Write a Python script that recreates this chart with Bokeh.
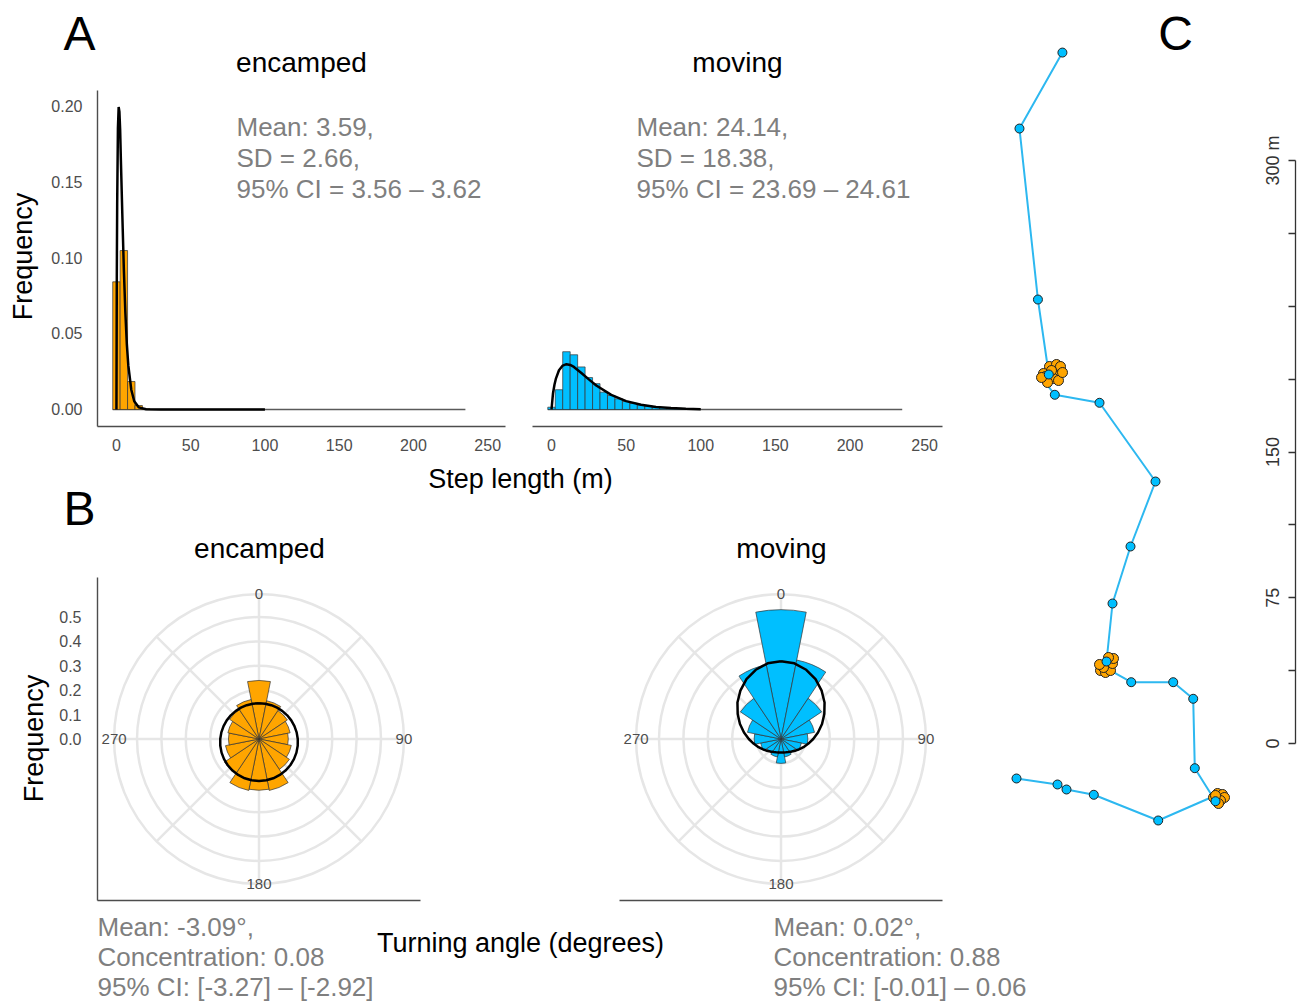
import math
from bokeh.plotting import figure
from bokeh.models import Range1d, FixedTicker, NumeralTickFormatter, Label
from bokeh.layouts import row, column
from bokeh.embed import file_html
from bokeh.resources import INLINE
from bokeh.core.properties import value

FONT = "Liberation Sans"
ORANGE = "#FFA500"
BLUE = "#00BFFF"
TRACK_BLUE = "#2DB8F0"
GRID = "#E6E6E6"
AXIS = "#4D4D4D"
STAT = "#7F7F7F"

# ---------------- Panel A: step length ----------------
bin_width = 5
step_max = 235
enc_bins = [0, 5, 10, 15, 20]
enc_freq = [0.084, 0.1046, 0.0184, 0.0026, 0.0005]
mov_bins = [0, 5, 10, 15, 20, 25, 30, 35, 40, 45, 50, 55, 60, 65, 70, 75, 80, 85, 90, 95]
mov_freq = [0.0015, 0.013, 0.038, 0.036, 0.028, 0.021, 0.017, 0.0114, 0.0092, 0.007,
            0.0053, 0.004, 0.003, 0.0024, 0.0018, 0.0013, 0.0009, 0.0007, 0.0004, 0.0002]
enc_curve_x = [0, 0.25, 0.5, 1, 1.5, 2, 2.5, 3, 4, 5, 6, 7, 8, 10, 12, 15, 20, 30, 50, 100]
enc_curve_y = [0, 0.088, 0.135, 0.185, 0.199, 0.196, 0.184, 0.164, 0.127, 0.092, 0.064,
               0.043, 0.029, 0.013, 0.0054, 0.0014, 0.0002, 0, 0, 0]
mov_curve_x = [0, 1, 2, 3, 5, 7.5, 10, 12.5, 15, 20, 25, 30, 40, 50, 60, 70, 80, 90, 100]
mov_curve_y = [0, 0.0107, 0.0164, 0.0205, 0.0258, 0.0289, 0.0298, 0.0293, 0.0280, 0.0240,
               0.0198, 0.0158, 0.0096, 0.0055, 0.0031, 0.0017, 0.0009, 0.0005, 0.0002]
step_ticks = [0, 50, 100, 150, 200, 250]
freq_ticks = [0, 0.05, 0.10, 0.15, 0.20]
enc_stats = ["Mean: 3.59,", "SD = 2.66,", "95% CI = 3.56 \u2013 3.62"]
mov_stats = ["Mean: 24.14,", "SD = 18.38,", "95% CI = 23.69 \u2013 24.61"]

# ---------------- Panel B: turning angle ----------------
rose_angles = [0, 22.5, 45, 67.5, 90, 112.5, 135, 157.5, 180, 202.5, 225, 247.5, 270, 292.5, 315, 337.5]
rose_width = 22.5
enc_rose = [0.24, 0.16, 0.14, 0.13, 0.12, 0.135, 0.15, 0.215, 0.21, 0.215, 0.17, 0.14, 0.125, 0.13, 0.145, 0.165]
mov_rose = [0.53, 0.33, 0.20, 0.14, 0.11, 0.085, 0.07, 0.075, 0.10, 0.075, 0.07, 0.085, 0.11, 0.14, 0.20, 0.31]
vm_angles = list(range(0, 360, 10))
enc_vm = [0.1467, 0.1469, 0.1474, 0.1483, 0.1494, 0.1509, 0.1527, 0.1546, 0.1567, 0.1589,
          0.1611, 0.1633, 0.1654, 0.1673, 0.1690, 0.1703, 0.1713, 0.1719, 0.1721,
          0.1719, 0.1713, 0.1703, 0.1690, 0.1673, 0.1654, 0.1633, 0.1611, 0.1589, 0.1567,
          0.1546, 0.1527, 0.1509, 0.1494, 0.1483, 0.1474, 0.1469]
mov_vm = [0.319, 0.315, 0.302, 0.283, 0.259, 0.233, 0.205, 0.179, 0.154, 0.132,
          0.113, 0.098, 0.085, 0.075, 0.067, 0.062, 0.058, 0.056, 0.055,
          0.056, 0.058, 0.062, 0.067, 0.075, 0.085, 0.098, 0.113, 0.132, 0.154,
          0.179, 0.205, 0.233, 0.259, 0.283, 0.302, 0.315]
r_ticks = [0, 0.1, 0.2, 0.3, 0.4, 0.5]
grid_radii = [0.1, 0.2, 0.3, 0.4, 0.5, 0.594]
spoke_angles = [0, 45, 90, 135, 180, 225, 270, 315]
theta_labels = ["0", "90", "180", "270"]
theta_label_angles = [0, 90, 180, 270]
theta_label_r = 0.594
enc_ang_stats = ["Mean: -3.09\u00b0,", "Concentration: 0.08", "95% CI: [-3.27] \u2013 [-2.92]"]
mov_ang_stats = ["Mean: 0.02\u00b0,", "Concentration: 0.88", "95% CI: [-0.01] \u2013 0.06"]

# ---------------- Panel C: track (metres) ----------------
track_x = [57.6, 35.5, 45.0, 50.59,
           50.95, 54.55, 56.61, 47.86, 48.89, 55.07, 53.01, 49.92, 55.58, 57.64, 51.98, 46.84,
           53.68, 76.69, 105.51, 92.64, 83.38, 80.29,
           77.20, 79.77, 82.35, 83.38, 83.89, 81.32, 78.74, 76.69,
           93.00, 114.62, 124.91, 125.73, 136.39,
           137.42, 139.99, 141.02, 138.96, 137.93, 135.36, 136.39,
           106.90, 73.75, 59.70, 55.07, 33.97]
track_y = [355.6, 316.5, 228.5, 189.91,
           194.03, 195.06, 194.03, 190.43, 188.88, 189.40, 187.85, 185.79, 186.82, 190.94, 191.97, 188.37,
           179.47, 175.35, 134.84, 101.39, 72.05, 42.20,
           37.57, 36.54, 37.57, 41.17, 43.75, 44.26, 39.11, 40.66,
           31.55, 31.55, 23.01, -12.71, -29.70,
           -25.73, -26.25, -27.79, -29.34, -30.88, -27.79, -26.76,
           -39.63, -26.40, -23.67, -21.10, -18.01]
track_state = (["moving"] * 4 + ["encamped"] * 12 + ["moving"] * 6 + ["encamped"] * 8
               + ["moving"] * 5 + ["encamped"] * 7 + ["moving"] * 5)
scale_major = [0, 75, 150, 300]
scale_minor = [37.5, 112.5, 187.5, 225, 262.5]


def base_fig(w, h, xr, yr, left=0, right=0, top=0, bottom=0, xloc=None, yloc=None):
    p = figure(width=w, height=h, x_range=xr, y_range=yr, toolbar_location=None,
               output_backend="svg", min_border_left=left, min_border_right=right,
               min_border_top=top, min_border_bottom=bottom,
               x_axis_location=xloc, y_axis_location=yloc)
    p.outline_line_color = None
    p.background_fill_color = "white"
    p.border_fill_color = "white"
    p.grid.visible = False
    return p


def text_strip(w, h):
    return base_fig(w, h, Range1d(0, 1), Range1d(0, 1))


def style_axis(ax, size="16px"):
    ax.axis_line_color = AXIS
    ax.axis_line_width = 1.4
    ax.major_tick_line_color = None
    ax.minor_tick_line_color = None
    ax.major_tick_out = 0
    ax.major_tick_in = 0
    ax.minor_tick_out = 0
    ax.minor_tick_in = 0
    ax.major_label_text_font = FONT
    ax.major_label_text_font_size = size
    ax.major_label_text_color = AXIS


def add_label(p, x, y, text, size, color="black", align="left", angle=0.0):
    p.add_layout(Label(x=x, y=y, x_units="screen", y_units="screen", text=text,
                       text_font=FONT, text_font_size=size, text_color=color,
                       text_align=align, text_baseline="middle", angle=angle))


def hist_panel(w, left, right, bins, freq, cx, cy, color, with_y):
    xr = Range1d(-12.75, 262.0)
    yr = Range1d(-0.0112, 0.2099)
    p = base_fig(w, 375, xr, yr, left, right, 5, 34, xloc="below",
                 yloc="left" if with_y else None)
    style_axis(p.xaxis[0])
    p.xaxis[0].ticker = FixedTicker(ticks=step_ticks)
    p.xaxis[0].major_label_standoff = 12
    if with_y:
        style_axis(p.yaxis[0])
        p.yaxis[0].ticker = FixedTicker(ticks=freq_ticks)
        p.yaxis[0].formatter = NumeralTickFormatter(format="0.00")
        p.yaxis[0].major_label_standoff = 15
    p.segment(x0=[bins[0] - bin_width / 2], y0=[0], x1=[step_max], y1=[0],
              line_color="#5a5a5a", line_width=1.6)
    p.quad(left=[b - bin_width / 2 for b in bins], right=[b + bin_width / 2 for b in bins],
           top=freq, bottom=0, fill_color=color, line_color="#333333", line_width=0.7)
    p.line(cx, cy, line_color="black", line_width=2.5)
    return p


def rose_panel(w, left, right, radii, vm, color, with_y):
    R = 323 / 2 / 244
    p = base_fig(w, 333, Range1d(-R, R), Range1d(-R, R), left, right, 5, 5,
                 xloc="below", yloc="left" if with_y else None)
    style_axis(p.xaxis[0])
    p.xaxis[0].ticker = FixedTicker(ticks=[])
    p.xaxis[0].major_label_standoff = 0
    if with_y:
        style_axis(p.yaxis[0])
        p.yaxis[0].ticker = FixedTicker(ticks=r_ticks)
        p.yaxis[0].formatter = NumeralTickFormatter(format="0.0")
        p.yaxis[0].major_label_standoff = 16
    # grid
    p.circle(x=0, y=0, radius=grid_radii, fill_color=None, line_color=GRID, line_width=2.5)
    r_out = grid_radii[-1]
    p.segment(x0=0, y0=0,
              x1=[r_out * math.sin(math.radians(a)) for a in spoke_angles],
              y1=[r_out * math.cos(math.radians(a)) for a in spoke_angles],
              line_color=GRID, line_width=2.5)
    # rose wedges (compass angle -> math angle)
    half = math.radians(rose_width / 2)
    starts = [math.pi / 2 - math.radians(a) - half for a in rose_angles]
    ends = [math.pi / 2 - math.radians(a) + half for a in rose_angles]
    p.wedge(x=0, y=0, radius=radii, start_angle=starts, end_angle=ends,
            fill_color=color, line_color="#333333", line_width=0.7)
    # von Mises density in polar coordinates
    vx = [r * math.sin(math.radians(a)) for a, r in zip(vm_angles, vm)]
    vy = [r * math.cos(math.radians(a)) for a, r in zip(vm_angles, vm)]
    p.line(vx + vx[:1], vy + vy[:1], line_color="black", line_width=2.5)
    # theta labels
    p.text(x=[theta_label_r * math.sin(math.radians(a)) for a in theta_label_angles],
           y=[theta_label_r * math.cos(math.radians(a)) for a in theta_label_angles],
           text=theta_labels, text_font=value(FONT), text_font_size="15px",
           text_align="center", text_baseline="middle", text_color=AXIS)
    return p


# ---- Panel A ----  (y 0..85 titles, 85..460 plots)
topA = text_strip(950, 85)
add_label(topA, 79, 52, "A", "48px", align="center")
add_label(topA, 301, 23, "encamped", "28px", align="center")
add_label(topA, 737, 23, "moving", "28px", align="center")

# frame of this strip is aligned with the histogram frames (y 90..426)
freqA = text_strip(42, 375)
add_label(freqA, 22, 170, "Frequency", "27px", align="center", angle=math.pi / 2)

pA1 = hist_panel(474, 55, 11, enc_bins, enc_freq, enc_curve_x, enc_curve_y, ORANGE, True)
pA2 = hist_panel(434, 16, 8, mov_bins, mov_freq, mov_curve_x, mov_curve_y, BLUE, False)
for i, t in enumerate(enc_stats):
    add_label(pA1, 139, 300 - 31 * i, t, "26px", color=STAT)
for i, t in enumerate(mov_stats):
    add_label(pA2, 104, 300 - 31 * i, t, "26px", color=STAT)

# ---- middle strip: x title of A, letter B, titles of B  (y 460..572)
mid = text_strip(950, 112)
add_label(mid, 520, 94, "Step length (m)", "27px", align="center")
add_label(mid, 79, 64, "B", "48px", align="center")
add_label(mid, 259, 24, "encamped", "28px", align="center")
add_label(mid, 781, 24, "moving", "28px", align="center")

# ---- Panel B ----  (y 572..905)
freqB = text_strip(50, 333)
add_label(freqB, 33, 162, "Frequency", "27px", align="center", angle=math.pi / 2)

pB1 = rose_panel(466, 47, 96, enc_rose, enc_vm, ORANGE, True)
pB2 = rose_panel(434, 103, 8, mov_rose, mov_vm, BLUE, False)

stripB = text_strip(1298, 97)
for i, t in enumerate(enc_ang_stats):
    add_label(stripB, 97, 76 - 30 * i, t, "26px", color=STAT)
for i, t in enumerate(mov_ang_stats):
    add_label(stripB, 773, 76 - 30 * i, t, "26px", color=STAT)
add_label(stripB, 520, 60, "Turning angle (degrees)", "27px", align="center")

# ---- Panel C ----
yrC = Range1d(-83.38, 382.4)
pC = base_fig(290, 905, Range1d(0, 149.25), yrC)
pC.line(track_x, track_y, line_color=TRACK_BLUE, line_width=2)
enc_idx = [i for i, s in enumerate(track_state) if s == "encamped"]
mov_idx = [i for i, s in enumerate(track_state) if s == "moving"]
pC.scatter([track_x[i] for i in enc_idx], [track_y[i] for i in enc_idx], size=10,
           fill_color=ORANGE, line_color="#222222", line_width=1)
pC.scatter([track_x[i] for i in mov_idx], [track_y[i] for i in mov_idx], size=9,
           fill_color=BLUE, line_color="#222222", line_width=1)
add_label(pC, 225, 872, "C", "48px", align="center")

pS = base_fig(59, 905, Range1d(0, 1), yrC, 55, 1, 0, 0, yloc="left")
ax = pS.yaxis[0]
ax.ticker = FixedTicker(ticks=scale_major, minor_ticks=scale_minor)
ax.bounds = (scale_major[0], scale_major[-1])
ax.major_label_overrides = {300: "300 m"}
ax.major_label_orientation = "vertical"
ax.axis_line_color = "#333333"
ax.axis_line_width = 1.3
ax.major_tick_line_color = "#333333"
ax.minor_tick_line_color = "#333333"
ax.major_tick_line_width = 1.3
ax.minor_tick_line_width = 1.3
ax.major_tick_out = 7
ax.major_tick_in = 0
ax.minor_tick_out = 7
ax.minor_tick_in = 0
ax.major_label_standoff = 5
ax.major_label_text_font = FONT
ax.major_label_text_font_size = "18px"
ax.major_label_text_color = "#333333"

rowA = row(freqA, pA1, pA2)
rowB = row(freqB, pB1, pB2)
left_col = column(topA, rowA, mid, rowB)
page = column(row(left_col, pC, pS), stripB)

open("out.html", "w").write(file_html(page, INLINE))
